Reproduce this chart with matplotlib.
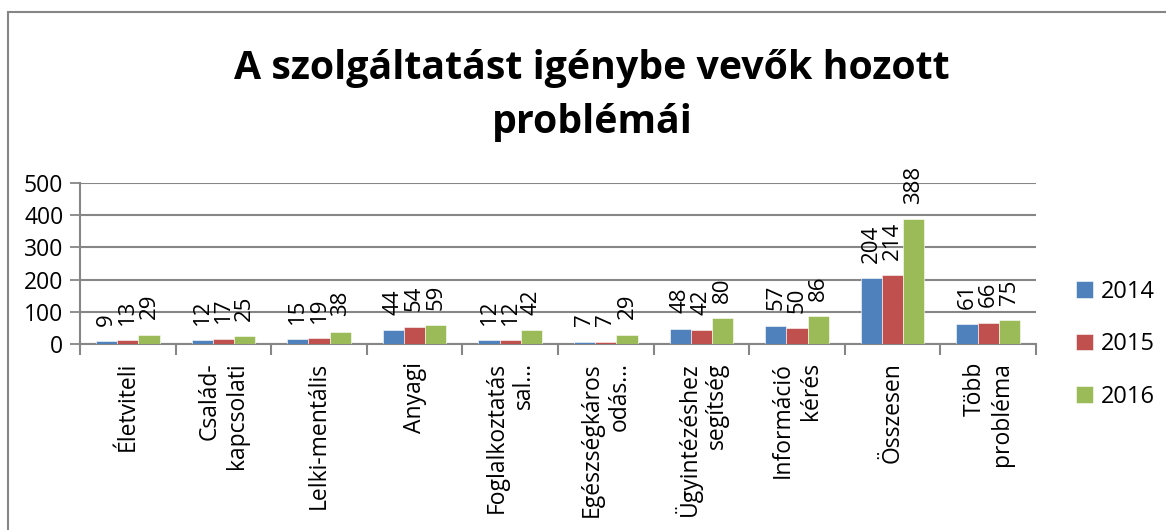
import numpy as np
import matplotlib.pyplot as plt
from matplotlib.patches import Rectangle

plt.rcParams['font.family'] = ['Open Sans', 'DejaVu Sans']

categories = ["Életviteli", "Család-\nkapcsolati", "Lelki-mentális", "Anyagi",
              "Foglalkoztatás\nsal...", "Egészségkáros\nodás...", "Ügyintézéshez\nsegítség",
              "Információ\nkérés", "Összesen", "Több\nprobléma"]
years = ["2014", "2015", "2016"]
v2014 = [9, 12, 15, 44, 12, 7, 48, 57, 204, 61]
v2015 = [13, 17, 19, 54, 12, 7, 42, 50, 214, 66]
v2016 = [29, 25, 38, 59, 42, 29, 80, 86, 388, 75]
colors = ["#4F81BD", "#C0504D", "#9BBB59"]

fig = plt.figure(figsize=(11.66, 5.30), dpi=100)
# chart border (right and bottom edges fall outside the image)
fig.patches.append(Rectangle((8/1166, -0.05), 1.1, 1 - 12/530 + 0.05,
                             transform=fig.transFigure, fill=False,
                             edgecolor="#868686", linewidth=1.5))

ax = fig.add_axes([80/1166, 1 - 344/530, (1036 - 80)/1166, (344 - 183)/530])

x = np.arange(len(categories))
w = 1/4.5
for i, (vals, col) in enumerate(zip([v2014, v2015, v2016], colors)):
    bars = ax.bar(x + (i - 1)*w, vals, w, color=col, label=years[i],
                  edgecolor="white", linewidth=0.4, zorder=3)
    for b, v in zip(bars, vals):
        ax.annotate(str(v), (b.get_x() + b.get_width()/2, v), xytext=(0, 11),
                    textcoords="offset points", rotation=90, ha="center",
                    va="bottom", fontsize=16, zorder=4)

ax.set_ylim(0, 500)
ax.set_xlim(-0.5, len(categories) - 0.5)
ax.set_yticks(range(0, 501, 100))
ax.tick_params(axis="y", labelsize=16.5, length=7, color="#868686", width=1.3, pad=5)
ax.yaxis.grid(True, color="#868686", linewidth=1.5, zorder=0)

ax.set_xticks(x)
ax.set_xticklabels(categories, rotation=90, fontsize=16.5, ha="center", va="top",
                   multialignment="right", linespacing=1.2)
ax.tick_params(axis="x", length=0, pad=13)
ax.set_xticks(np.arange(-0.5, len(categories)), minor=True)
ax.tick_params(axis="x", which="minor", length=8, color="#868686", width=1.5)

for s in ["top", "right"]:
    ax.spines[s].set_visible(False)
for s in ["left", "bottom"]:
    ax.spines[s].set_color("#868686")
    ax.spines[s].set_linewidth(1.5)

fig.text(592/1166, 1 - 96/530, "A szolgáltatást igénybe vevők hozott\nproblémái",
         ha="center", va="center", fontsize=28.3, fontweight="bold", linespacing=1.5)

ax.legend(loc="upper left", bbox_to_anchor=(1076/1166, 1 - 280/530),
          bbox_transform=fig.transFigure, frameon=False, fontsize=17,
          handlelength=0.7, handleheight=0.7, handletextpad=0.35, labelspacing=1.2,
          borderpad=0.0, borderaxespad=0.0)

fig.savefig("out.png", dpi=100)
